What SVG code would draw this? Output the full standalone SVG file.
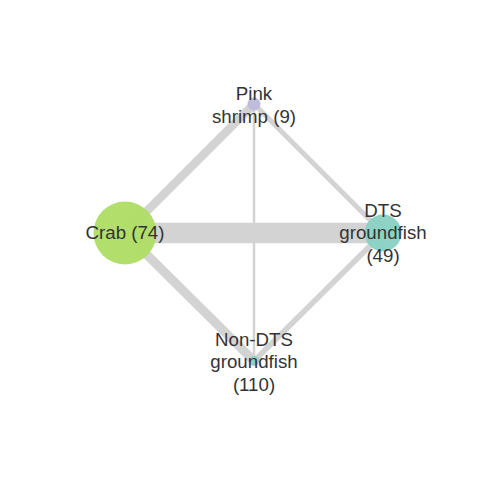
<svg xmlns="http://www.w3.org/2000/svg" width="480" height="480" viewBox="0 0 480 480">
<style>
.edge{stroke:#D3D3D3;stroke-linecap:butt;fill:none}
.node{fill-opacity:0.97}
.lbl{font-family:"Liberation Sans",Arial,Helvetica,sans-serif;font-size:18.7px;fill:#333333;text-anchor:middle}
</style>
<rect width="480" height="480" fill="#FFFFFF"/>
<g id="connectors">
<line class="edge" x1="125" y1="233" x2="383" y2="233" stroke-width="20.5"/>
<line class="edge" x1="125" y1="233" x2="254" y2="104" stroke-width="8.5"/>
<line class="edge" x1="125" y1="233" x2="254" y2="361" stroke-width="9"/>
<line class="edge" x1="254" y1="104" x2="254" y2="361" stroke-width="2.5"/>
<line class="edge" x1="254" y1="104" x2="383" y2="233" stroke-width="5"/>
<line class="edge" x1="383" y1="233" x2="254" y2="361" stroke-width="5.5"/>
</g>
<g id="crab">
<circle class="node" cx="125" cy="233" r="31.5" fill="#B0DD66"/>
<text class="lbl" x="125" y="239">Crab (74)</text>
</g>
<g id="pink-shrimp">
<circle class="node" cx="254" cy="104" r="6.5" fill="#BEBADA"/>
<text class="lbl" x="254" y="100">Pink</text>
<text class="lbl" x="254" y="122.5">shrimp (9)</text>
</g>
<g id="dts-groundfish">
<circle class="node" cx="383" cy="233" r="18.5" fill="#8AD2C4"/>
<text class="lbl" x="383" y="216.5">DTS</text>
<text class="lbl" x="383" y="239">groundfish</text>
<text class="lbl" x="383" y="261.5">(49)</text>
</g>
<g id="non-dts-groundfish">
<circle class="node" cx="254" cy="361" r="5" fill="#8AD2C4"/>
<text class="lbl" x="254" y="345.5">Non-DTS</text>
<text class="lbl" x="254" y="368">groundfish</text>
<text class="lbl" x="254" y="390.5">(110)</text>
</g>
</svg>
